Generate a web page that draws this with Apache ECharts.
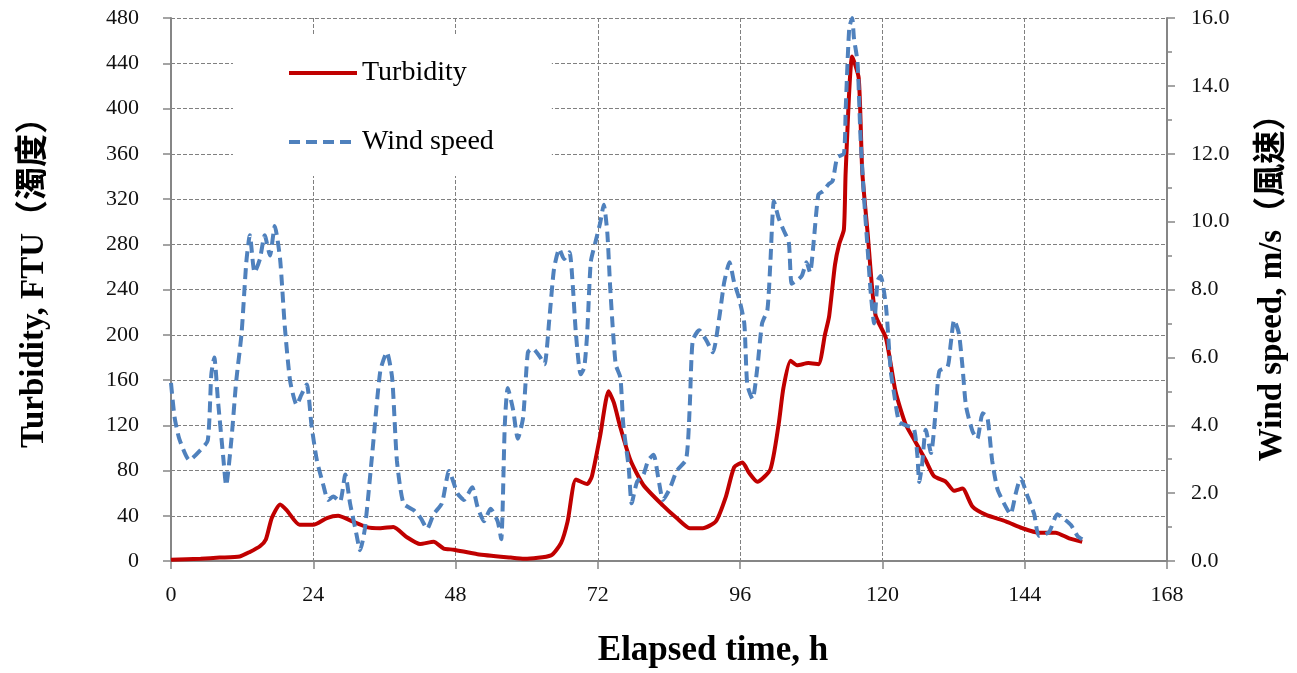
<!DOCTYPE html>
<html>
<head>
<meta charset="utf-8">
<script src="https://cdn.jsdelivr.net/npm/echarts@6/dist/echarts.min.js"></script>
<style>
  html, body { margin: 0; padding: 0; background: #fff; }
  #main { width: 1297px; height: 673px; }
</style>
</head>
<body>
<div id="main"></div>
<script>
// elapsed time (h) and turbidity (FTU)
const turbTime = [0, 5, 8.2, 11.6, 13.3, 15, 16, 17, 18.4, 19.5, 21.7, 24, 26.3, 28.2, 30.2, 33, 35.3, 37.5, 39.8, 42, 44.3, 46, 47.7, 51.7, 57.3, 59.6, 64.1, 65.8, 66.9, 68.3, 70.2, 71, 72.4, 73.8, 74.7, 75.8, 77.5, 79.7, 83, 85.3, 87.5, 89.7, 91.9, 93.6, 95, 96.4, 97.5, 98.9, 101.1, 102.5, 103.3, 104.5, 105.6, 107.5, 109.2, 110.3, 111, 112, 112.7, 113.5, 113.8, 114.9, 116, 116.6, 117.5, 118.3, 118.9, 120.6, 122.2, 123.9, 125.6, 127.3, 128.7, 130.7, 132.1, 133.5, 135.2, 137.4, 140.8, 143.6, 146.4, 149.2, 151.5, 153.7]
const turbValue = [1, 2, 3, 4, 8, 13, 19, 38, 50, 45, 32, 32, 38, 40, 36, 30, 29, 30, 21, 15, 17, 11, 10, 6, 3, 2, 5, 16, 35, 72, 68, 75, 111, 150, 140, 118, 89, 67, 49, 38, 29, 29, 35, 57, 83, 87, 78, 70, 81, 121, 153, 177, 173, 175, 174, 200, 216, 262, 280, 293, 344, 446, 427, 344, 290, 239, 216, 197, 150, 121, 105, 89, 75, 70, 62, 64, 48, 41, 35, 29, 25, 25, 20, 17]

// elapsed time (h) and wind speed (m/s)
const windTime = [0, 0.6, 1.4, 3.1, 4.8, 6.2, 6.8, 7.3, 7.9, 8.8, 9.3, 10.2, 11, 11.9, 12.7, 13.3, 14.1, 15, 15.8, 16.7, 17.5, 18.4, 19.2, 20.1, 21.2, 22, 22.9, 23.7, 24.6, 25.7, 26.5, 27.4, 28.5, 29.4, 30.2, 31.1, 31.9, 32.7, 33.9, 35.3, 36.4, 37.3, 38.1, 39.2, 40.9, 42.1, 43.2, 44.3, 45.7, 46.9, 48.3, 49.4, 50.8, 51.7, 52.8, 53.9, 55.1, 55.7, 56.3, 56.8, 57.7, 58.5, 59.4, 60.2, 61, 62.1, 63, 63.8, 64.6, 65.5, 66.3, 67.2, 67.7, 68.3, 69.1, 69.7, 70.2, 70.8, 71.6, 72.4, 73, 73.6, 74.1, 75, 75.8, 76.3, 77.2, 77.7, 78.6, 79.7, 80.5, 81.4, 82.2, 83, 84.1, 85.3, 86.9, 87.5, 88, 89.1, 90.3, 91.4, 92.5, 93.3, 94.2, 95, 95.8, 96.7, 97.2, 98.1, 98.9, 99.7, 100.6, 101.1, 101.7, 102.5, 103.3, 104.2, 104.7, 105.6, 106.4, 107.2, 107.8, 108.4, 109.2, 110, 110.9, 111.6, 112.4, 113.5, 113.8, 114.4, 114.9, 115.2, 115.8, 116.3, 116.9, 117.5, 118, 118.6, 119.2, 119.7, 120.6, 121.4, 122, 122.8, 123.9, 125.3, 125.9, 126.2, 126.7, 127.3, 128.2, 129, 129.6, 131, 131.5, 132.1, 132.9, 133.5, 134.1, 135.2, 136, 136.9, 137.7, 138.5, 139.4, 140.5, 141.6, 142.5, 143.3, 144.5, 145.6, 146.4, 148.1, 149.5, 150.4, 151.8, 152.9, 153.7]
const windValue = [5.25, 4.24, 3.6, 2.97, 3.24, 3.55, 5.5, 6.0, 4.77, 3.08, 2.23, 3.6, 5.3, 6.7, 8.8, 9.6, 8.5, 8.9, 9.6, 9.0, 9.87, 8.9, 6.9, 5.3, 4.6, 4.9, 5.2, 4.0, 2.97, 2.23, 1.8, 1.9, 1.75, 2.55, 1.7, 0.95, 0.32, 0.95, 3.08, 5.6, 6.15, 5.4, 2.97, 1.7, 1.5, 1.27, 0.95, 1.38, 1.7, 2.65, 2.0, 1.8, 2.17, 1.6, 1.17, 1.54, 1.17, 0.64, 4.0, 5.1, 4.46, 3.6, 4.24, 6.15, 6.26, 6.05, 5.8, 7.1, 8.6, 9.2, 8.9, 9.1, 8.3, 6.7, 5.5, 5.7, 6.7, 8.8, 9.4, 9.97, 10.5, 9.66, 8.0, 5.8, 5.4, 4.0, 2.76, 1.7, 2.33, 2.55, 2.97, 3.13, 2.44, 1.8, 2.12, 2.65, 3.0, 4.56, 6.5, 6.8, 6.5, 6.15, 7.2, 8.2, 8.8, 8.2, 7.75, 7.0, 5.2, 4.77, 5.7, 7.0, 7.4, 8.8, 10.6, 10.1, 9.76, 9.4, 8.17, 8.27, 8.4, 8.8, 8.5, 9.4, 10.8, 10.9, 11.1, 11.2, 11.9, 12.0, 13.3, 15.7, 16.0, 15.4, 14.7, 12.5, 10.7, 9.2, 7.96, 7.0, 8.27, 8.4, 7.5, 5.6, 4.9, 4.1, 4.0, 3.9, 3.1, 2.33, 2.86, 3.87, 3.18, 4.46, 5.6, 5.73, 6.37, 7.1, 6.7, 5.73, 4.56, 3.82, 3.6, 4.35, 4.24, 2.97, 2.12, 1.7, 1.38, 2.0, 2.44, 1.9, 1.38, 0.74, 0.85, 1.38, 1.27, 1.06, 0.74, 0.64]

const chart = echarts.init(document.getElementById('main'))

const serif = 'Liberation Serif'
const gridLine = { show: true, lineStyle: { color: '#808080', type: [4, 2], width: 1 } }
const axisLine = { show: true, lineStyle: { color: '#868686', width: 2 } }
const tickStyle = { color: '#868686', width: 1.5 }

const option = {
  backgroundColor: '#fff',
  animation: false,
  grid: { left: 171, right: 129, top: 18, bottom: 107 },
  legend: {
    orient: 'vertical',
    left: 233,
    top: 35,
    padding: [24, 58, 20, 54],
    itemGap: 41,
    itemWidth: 68,
    itemHeight: 24,
    backgroundColor: '#fff',
    itemStyle: { opacity: 0 },
    lineStyle: { width: 4 },
    textStyle: { fontFamily: serif, fontSize: 28, color: '#000' },
    data: ['Turbidity', 'Wind speed']
  },
  xAxis: {
    type: 'value',
    min: 0,
    max: 168,
    interval: 24,
    name: 'Elapsed time, h',
    nameLocation: 'middle',
    nameGap: 72,
    nameTextStyle: { fontFamily: serif, fontSize: 35, fontWeight: 'bold', color: '#000', padding: [0, 0, 0, 88] },
    axisLine: axisLine,
    axisTick: { show: true, length: 8, lineStyle: tickStyle },
    axisLabel: { fontFamily: serif, fontSize: 22, color: '#111', margin: 23 },
    splitLine: gridLine
  },
  yAxis: [{
    type: 'value',
    min: 0,
    max: 480,
    interval: 40,
    name: 'Turbidity, FTU（濁度）',
    nameLocation: 'middle',
    nameRotate: 90,
    nameGap: 120,
    nameTextStyle: { fontFamily: serif + ', Noto Sans CJK TC', fontSize: 33, fontWeight: 'bold', color: '#000', padding: [0, 0, 0, 30] },
    axisLine: axisLine,
    axisTick: { show: true, length: 8, lineStyle: tickStyle },
    axisLabel: { fontFamily: serif, fontSize: 22, color: '#111', margin: 32 },
    splitLine: gridLine
  }, {
    type: 'value',
    position: 'right',
    min: 0,
    max: 16,
    interval: 2,
    name: 'Wind speed, m/s（風速）',
    nameLocation: 'middle',
    nameRotate: 90,
    nameGap: 89,
    nameTextStyle: { fontFamily: serif + ', Noto Sans CJK TC', fontSize: 33, fontWeight: 'bold', color: '#000', padding: [0, 0, 0, 20] },
    axisLine: axisLine,
    axisTick: { show: true, length: 8, lineStyle: tickStyle },
    minorTick: { show: true, splitNumber: 2, length: 5, lineStyle: tickStyle },
    axisLabel: { fontFamily: serif, fontSize: 22, color: '#111', margin: 24, formatter: v => v.toFixed(1) },
    splitLine: { show: false }
  }],
  series: [{
    name: 'Turbidity',
    type: 'line',
    yAxisIndex: 0,
    symbol: 'none',
    smooth: 0.2,
    lineStyle: { color: '#C00000', width: 4 },
    itemStyle: { color: '#C00000' },
    data: turbTime.map((t, i) => [t, turbValue[i]])
  }, {
    name: 'Wind speed',
    type: 'line',
    yAxisIndex: 1,
    symbol: 'none',
    smooth: 0.2,
    lineStyle: { color: '#4F81BD', width: 4, type: [11, 6] },
    itemStyle: { color: '#4F81BD' },
    data: windTime.map((t, i) => [t, windValue[i]])
  }]
}

chart.setOption(option)
</script>
</body>
</html>
